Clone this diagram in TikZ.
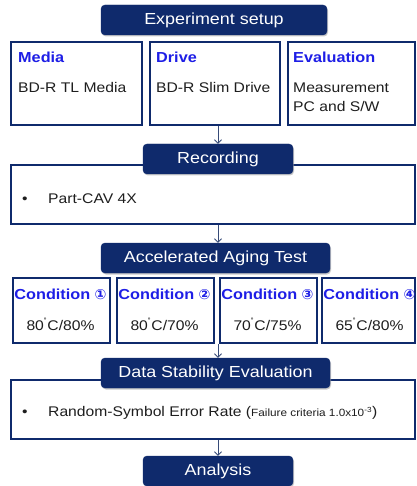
\documentclass[tikz,border=0pt]{standalone}
\usepackage{fontspec}
\setmainfont[FakeStretch=1.12]{Liberation Sans}
\newfontfamily\symfont[FakeStretch=1.0]{DejaVu Sans}
\usetikzlibrary{arrows.meta,shadows}
\definecolor{navy}{RGB}{15,42,108}
\definecolor{titleblue}{RGB}{30,30,230}
\definecolor{arrowcol}{RGB}{55,75,120}
\definecolor{txt}{RGB}{30,30,30}
\tikzset{
  hdr/.style={fill=navy, draw=navy, rounded corners=4pt, text=white,
    font=\fontsize{16}{18}\selectfont, inner sep=0pt,
    drop shadow={shadow xshift=1pt, shadow yshift=-1.5pt, fill=black!35, opacity=0.6}},
  box/.style={draw=navy, line width=1.8pt, fill=white, inner sep=0pt, anchor=north west,
    drop shadow={shadow xshift=1pt, shadow yshift=-1pt, fill=black!30, opacity=0.5}},
  ttl/.style={anchor=base west, text=titleblue, font=\bfseries\fontsize{14.5}{16}\selectfont, inner sep=0pt},
  body/.style={anchor=base west, text=txt, font=\fontsize{14}{16}\selectfont, inner sep=0pt},
  cval/.style={anchor=base, text=txt, font=\fontsize{14}{16}\selectfont, inner sep=0pt},
  arr/.style={draw=arrowcol, line width=0.8pt, -{Straight Barb[length=3.5pt,width=7pt]}}
}
\newcommand{\cnum}[1]{{\symfont\fontsize{14}{16}\selectfont #1}}
\begin{document}
\begin{tikzpicture}[x=1pt,y=-1pt]
\useasboundingbox (0,0) rectangle (416,486);
\clip (0,0) rectangle (416,486);

% Experiment setup
\node[box, minimum width=131pt, minimum height=83pt] (media) at (10,41) {};
\node[box, minimum width=130pt, minimum height=83pt] (drive) at (149,41) {};
\node[box, minimum width=127pt, minimum height=83pt] (eval) at (287,41) {};
\node[hdr, minimum width=226pt, minimum height=30pt] (setup) at (214,20) {Experiment setup};

\node[ttl] (mediat) at (18,62.5) {Media};
\node[body] (mediab) at (18,92.5) {BD-R TL Media};
\node[ttl] (drivet) at (156,62.5) {Drive};
\node[body] (driveb) at (156,92.5) {BD-R Slim Drive};
\node[ttl] (evalt) at (293,62.5) {Evaluation};
\node[body] (evalb1) at (293,92.5) {Measurement};
\node[body] (evalb2) at (293,112) {PC and S/W};

% Recording
\node[box, minimum width=404pt, minimum height=59pt] (recbox) at (10,164) {};
\node[hdr, minimum width=150pt, minimum height=30pt] (rec) at (218,159) {Recording};
\node[body] (recb) at (22,204) {\textbullet};
\node[body] (rect) at (48,204) {Part-CAV 4X};

% Accelerated aging
\node[hdr, minimum width=229pt, minimum height=30pt] (aging) at (215.5,258) {Accelerated Aging Test};
\node[box, minimum width=97pt, minimum height=65pt] (c1) at (12,277) {};
\node[box, minimum width=97pt, minimum height=65pt] (c2) at (116,277) {};
\node[box, minimum width=97pt, minimum height=65pt] (c3) at (219,277) {};
\node[box, minimum width=93pt, minimum height=65pt] (c4) at (321,277) {};
\node[ttl, anchor=base] (c1t) at (60.5,299) {Condition \cnum{①}};
\node[ttl, anchor=base] (c2t) at (164.5,299) {Condition \cnum{②}};
\node[ttl, anchor=base] (c3t) at (267.5,299) {Condition \cnum{③}};
\node[ttl, anchor=base] (c4t) at (369.5,299) {Condition \cnum{④}};
\node[cval] (c1v) at (60.5,330) {80\textsuperscript{\fontsize{8}{8}\selectfont˚}C/80\%};
\node[cval] (c2v) at (164.5,330) {80\textsuperscript{\fontsize{8}{8}\selectfont˚}C/70\%};
\node[cval] (c3v) at (267.5,330) {70\textsuperscript{\fontsize{8}{8}\selectfont˚}C/75\%};
\node[cval] (c4v) at (369.5,330) {65\textsuperscript{\fontsize{8}{8}\selectfont˚}C/80\%};

% Data stability
\node[box, minimum width=404pt, minimum height=59pt] (dsbox) at (10,379) {};
\node[hdr, minimum width=229pt, minimum height=30pt] (ds) at (215.5,373) {Data Stability Evaluation};
\node[body] (dsb) at (22,416.5) {\textbullet};
\node[body] (dst) at (48,416.5) {Random-Symbol Error Rate (\fontsize{10.5}{12}\selectfont Failure criteria 1.0x10\textsuperscript{-3}\fontsize{14}{16}\selectfont)};

% Analysis
\node[hdr, minimum width=150pt, minimum height=30pt] (ana) at (218,471) {Analysis};

% arrows
\draw[arr] (rec.north |- drive.south) -- (rec.north);
\draw[arr] (rec.north |- recbox.south) -- (aging.north -| rec.north);
\draw[arr] (rec.north |- c3.south) -- (ds.north -| rec.north);
\draw[arr] (rec.north |- dsbox.south) -- (ana.north);
\end{tikzpicture}
\end{document}
